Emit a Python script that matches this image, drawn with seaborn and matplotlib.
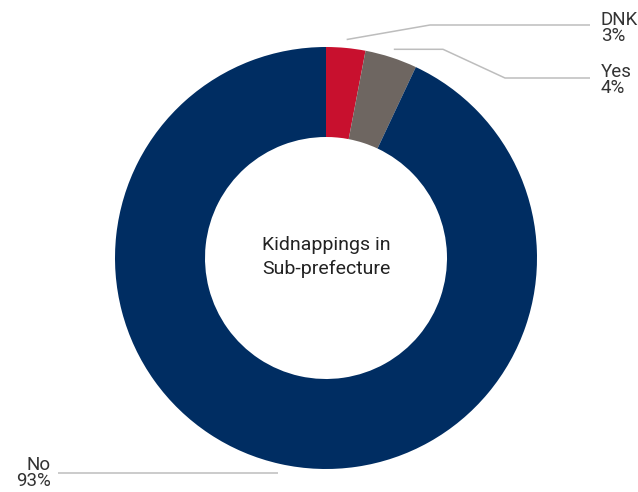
import numpy as np
import matplotlib
matplotlib.use("Agg")
import matplotlib.pyplot as plt
import seaborn as sns

labels = ["DNK", "Yes", "No"]
shares = [3, 4, 93]
colors = ["#C8102E", "#6E6661", "#002D62"]
center_title = "Kidnappings in\nSub-prefecture"

sns.set_theme(style="white")
plt.rcParams['font.family'] = ['Roboto', 'DejaVu Sans']

W, H = 638, 492
fig = plt.figure(figsize=(W / 100, H / 100), dpi=100)
ax = fig.add_axes([0, 0, 1, 1])

cx, cy, r = 326, H - 258, 211
wedges, _ = ax.pie(shares, colors=colors, startangle=90, counterclock=False,
                   center=(cx, cy), radius=r, frame=True,
                   wedgeprops=dict(width=r - 121, linewidth=0))
ax.set_xlim(0, W)
ax.set_ylim(0, H)
ax.set_aspect('equal')
ax.axis('off')

ax.text(cx, cy + 1, center_title, ha='center', va='center', fontsize=14,
        color='#222222', linespacing=1.35)

# leader lines: start just outside each wedge, then elbow to label
line_kw = dict(color='#BDBDBD', lw=1.1, solid_capstyle='butt')
text_kw = dict(fontsize=13.5, color='#333333', linespacing=0.92)
paths = {
    "DNK": [(430, 25), (590, 25)],
    "Yes": [(443, 48), (505, 78), (590, 78)],
    "No": [(282, 473), (58, 473)],
}
label_pos = {"DNK": (601, 28, 'left'), "Yes": (601, 80, 'left'), "No": (51, 473, 'right')}
for w, lab, s in zip(wedges, labels, shares):
    ang = np.deg2rad((w.theta1 + w.theta2) / 2)
    sx = cx + 1.04 * r * np.cos(ang)
    sy = cy + 1.04 * r * np.sin(ang)
    pts = paths[lab]
    if lab == "No":
        pts = [(sx, H - pts[0][1])] + [(px, H - py) for px, py in pts[1:]]
    else:
        pts = [(sx, sy)] + [(px, H - py) for px, py in pts]
        if lab == "Yes":
            pts[1] = (pts[1][0], sy)
    xs, ys = zip(*pts)
    ax.plot(xs, ys, **line_kw)
    tx, ty, ha = label_pos[lab]
    ax.text(tx, H - ty, f"{lab}\n{s}%", ha=ha, va='center', **text_kw)

fig.savefig("out.png", dpi=100)
